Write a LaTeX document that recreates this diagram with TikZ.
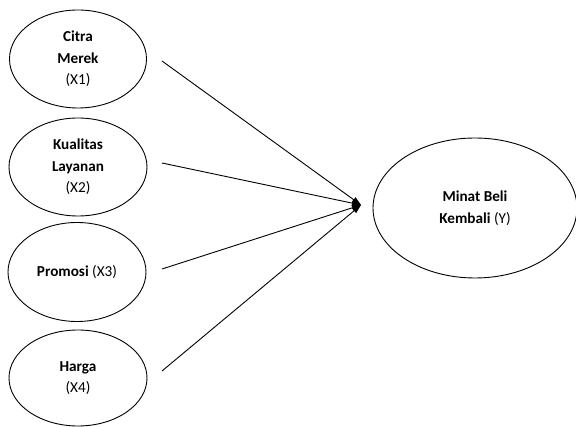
\documentclass[tikz,border=0pt]{standalone}
\usepackage{fontspec}
\setmainfont{Carlito}
\usetikzlibrary{shapes.geometric,arrows.meta}
\begin{document}
\begin{tikzpicture}[x=1pt,y=-1pt,
  var/.style={draw, ellipse, line width=0.9pt, inner sep=0pt, align=center,
    font=\fontsize{15.2}{21.5}\selectfont},
  link/.style={line width=0.9pt, -{Triangle[length=9pt,width=6pt]}}]
\useasboundingbox (0,0) rectangle (576,427);
\node[var, minimum width=137, minimum height=98] (x1) at (78,59) {\textbf{Citra}\\\textbf{Merek}\\(X1)};
\node[var, minimum width=138, minimum height=98] (x2) at (78,167) {\textbf{Kualitas}\\\textbf{Layanan}\\(X2)};
\node[var, minimum width=138, minimum height=99] (x3) at (77,272) {\textbf{Promosi} (X3)};
\node[var, minimum width=138, minimum height=96] (x4) at (78,378) {\textbf{Harga}\\(X4)};
\node[var, minimum width=204, minimum height=140] (y) at (475,208) {\textbf{Minat Beli}\\\textbf{Kembali} (Y)};
\coordinate (c) at (361,205);
\coordinate (s1) at (162,61);
\coordinate (s2) at (162,163);
\coordinate (s3) at (162,269);
\coordinate (s4) at (162,371);
\draw[link] (s1) -- (c);
\draw[link] (s2) -- (c);
\draw[link] (s3) -- (c);
\draw[link] (s4) -- (c);
\end{tikzpicture}
\end{document}
